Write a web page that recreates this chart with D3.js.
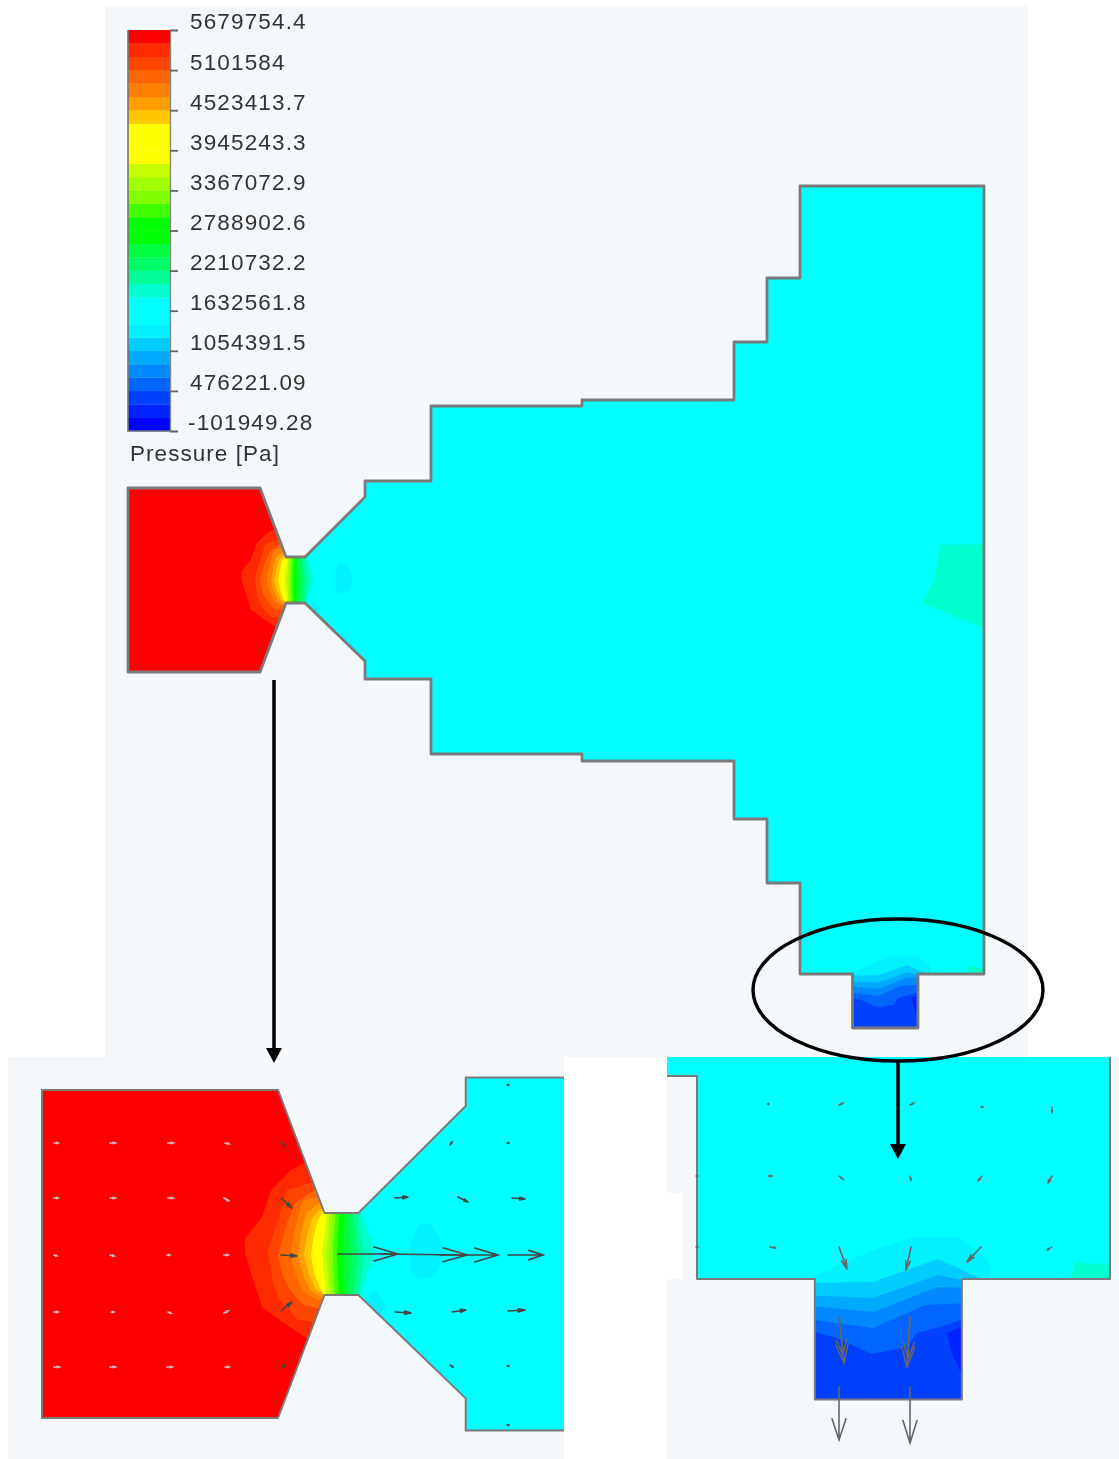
<!DOCTYPE html>
<html><head><meta charset="utf-8">
<script src="https://cdn.jsdelivr.net/npm/d3@7/dist/d3.min.js"></script>
<style>html,body{margin:0;padding:0;background:#fff}svg{display:block}</style>
</head><body><svg id="c" width="1119" height="1459"></svg>
<script>
// ---- legend data ----
const pressureMin = -101949.28, pressureMax = 5679754.4;
const tickValues = [5679754.4,5101584,4523413.7,3945243.3,3367072.9,2788902.6,2210732.2,1632561.8,1054391.5,476221.09,-101949.28];
const tickLabels = ["5679754.4","5101584","4523413.7","3945243.3","3367072.9","2788902.6","2210732.2","1632561.8","1054391.5","476221.09","-101949.28"];
const bandColors = ["#ff0000","#ff2a00","#ff4400","#ff6600","#ff8000","#ffa000","#ffc800","#ffff00","#ffff00","#ffff00",
  "#c8ff00","#a0ff00","#80ff00","#40ff00","#00ff00","#00ff00","#00ff40","#00ff66","#00ff99","#00ffcc",
  "#00ffff","#00ffff","#00f2ff","#00ccff","#00aaff","#0088ff","#0066ff","#0040ff","#0020ff","#0000ff"].reverse();
const legendTitle = "Pressure [Pa]";

// ---- geometry (model frame) ----
const domainOutline = [[128,488],[260,488],[286,557],[305,557],[365,497],[365,481],[431,481],[431,406],[582,406],[582,400],[734,400],[734,342],[767,342],[767,278],[800,278],[800,186],[984,186],[984,974],[918,974],[918,1028],[852.5,1028],[852.5,974],[800,974],[800,883],[767,883],[767,819],[734,819],[734,761],[582,761],[582,754],[431,754],[431,679],[365,679],[365,661],[305,603],[286,603],[260,672],[128,672]];

// ---- pressure contours near the nozzle (nozzle frame) ----
const nozzleLevels = [5391000,5198000,5005000,4813000,4620000,4427000,4234000,3660000,3470000,3270000,3080000,2890000,2510000,2310000,2120000,1920000,1540000];
const nozzleBoundaries = [
 [[310,1160],[291,1170],[271,1190],[262,1217],[245,1238],[245,1253],[254,1283],[262,1307],[284,1323],[312,1342]],
 [[314,1182],[287,1190],[278,1220],[268,1250],[273,1283],[280,1300],[298,1320],[315,1322]],
 [[314,1190],[295,1203],[287,1223],[278,1255],[283,1277],[290,1290],[303,1305],[316,1308]],
 [[318,1197],[303,1200],[297,1220],[290,1255],[295,1273],[303,1292],[318,1300]],
 [[320,1203],[307,1212],[302,1228],[298,1255],[303,1275],[310,1290],[321,1297]],
 [[322,1208],[312,1218],[307,1235],[304,1255],[309,1275],[316,1290],[323,1293]],
 [[325,1208],[317,1222],[313,1240],[311,1255],[314,1272],[320,1288],[326,1300]],
 [[327,1205],[325,1230],[322,1255],[325,1280],[327,1305]],
 [[330,1205],[328,1235],[326,1255],[328,1280],[330,1305]],
 [[333,1205],[331,1235],[330,1255],[331,1280],[333,1305]],
 [[336,1205],[334,1235],[333,1255],[334,1280],[336,1305]],
 [[340,1205],[338,1235],[337,1255],[338,1280],[340,1305]],
 [[345,1205],[344,1235],[344,1255],[344,1280],[345,1305]],
 [[349,1205],[350,1235],[351,1255],[350,1280],[349,1305]],
 [[353,1205],[355,1235],[358,1255],[355,1280],[353,1305]],
 [[357,1205],[361,1235],[365,1255],[361,1280],[357,1305]],
 [[361,-1500],[361,1212],[374,1247],[374,1257],[361,1293],[361,3500]]
];
const nozzleBubbleLevel = 1350000;
const nozzleBubbles = [
 [[420,1224],[432,1224],[441,1240],[443,1258],[436,1275],[420,1280],[411,1272],[411,1240]],
 [[369,1294],[376,1291],[386,1306],[378,1316],[369,1302]]
];

// ---- pressure contours near the outlet (outlet frame) ----
const outletLevels = [1350000,1160000,970000,770000,580000,390000];
const outletBoundaries = [
 [[807,1279],[873,1250],[913,1237],[960,1238],[988,1260],[992,1281]],
 [[800,1283],[873,1282],[938,1259],[962,1270],[988,1281]],
 [[800,1295],[873,1298],[938,1275],[962,1280],[970,1281]],
 [[800,1305],[873,1312],[938,1287],[970,1288]],
 [[800,1318],[873,1328],[925,1305],[970,1303]],
 [[800,1328],[837,1338],[872,1354],[907,1347],[917,1333],[947,1325],[970,1316]]
];
const outletPatchLevel = 200000;
const outletPatch = [[947,1333],[965,1325],[965,1382],[952,1353]];
const cornerPatchLevel = 1920000;
const cornerPatch = [[1070,1281],[1075,1262],[1112,1265],[1112,1281]];
const wallPatch = [[940,545],[986,544],[986,629],[922,603],[935,577]];

// ---- velocity vectors: x, y, u, v ----
const nozzleVectors = [
 [54,1143,4,0],[110,1143,5,0],[168,1143,5,0],[225,1143,4,1],[281,1142,4,4],
 [54,1198,4,0],[110,1198,5,0],[168,1198,5,0],[224,1198,5,3],[281,1198,11,10],
 [54,1255,3,1],[110,1255,4,1],[167,1255,3,0],[224,1255,4,0],[281,1255,16,1],
 [54,1312,4,0],[111,1312,3,0],[168,1312,3,1],[224,1313,4,-2],[281,1311,11,-9],
 [54,1367,5,0],[110,1367,5,0],[167,1367,5,0],[225,1367,4,0],[281,1369,4,-5],
 [338,1254,60,0],[380,1254,87,1],[440,1255,58,0],[508,1255,35,0],
 [395,1198,13,-1],[458,1197,10,5],[512,1198,13,1],
 [395,1312,16,1],[452,1312,14,-2],[508,1311,17,-1],
 [450,1145,2,-3],[507,1143,2,0],[507,1085,2,0],[450,1365,3,2],[507,1366,2,0],[507,1425,2,0]
];
const outletVectors = [
 [767,1104,2,0],[839,1105,4,-2],[910,1105,4,-2],[981,1107,2,0],[1052,1107,0,6],
 [696,1176,2,0],[768,1176,4,0],[839,1176,4,3],[910,1176,1,4],[982,1176,-4,5],[1052,1176,-4,7],
 [696,1247,2,0],[770,1247,6,1],[839,1247,8,22],[911,1247,-5,23],[981,1247,-14,15],[1052,1247,-5,3],
 [839,1317,5,46],[910,1317,-3,50],[839,1317,4,38],[910,1317,-2,42],
 [839,1387,0,53],[910,1387,0,56]
];

// ---- scales ----
const toModel = {
  model:{x:d3.scaleLinear().domain([0,1]).range([0,1]), y:d3.scaleLinear().domain([0,1]).range([0,1])},
  nozzle:{x:d3.scaleLinear().domain([42,278]).range([128,260]), y:d3.scaleLinear().domain([1090,1418]).range([488,672])},
  outlet:{x:d3.scaleLinear().domain([697,1110]).range([800,984]), y:d3.scaleLinear().domain([1076,1279]).range([883,974])}
};
const views = [
 {id:"main", x:d3.scaleLinear().domain([0,1]).range([0,1]), y:d3.scaleLinear().domain([0,1]).range([0,1]), sw:2.8, clip:[105,6,923,1051]},
 {id:"left", x:d3.scaleLinear().domain([128,260]).range([42,278]), y:d3.scaleLinear().domain([488,672]).range([1090,1418]), sw:2, clip:[8,1057,556,402]},
 {id:"right", x:d3.scaleLinear().domain([800,984]).range([697,1110]), y:d3.scaleLinear().domain([883,974]).range([1076,1279]), sw:2, clip:[667,1057,452,402]}
];
const color = d3.scaleQuantize().domain([pressureMin,pressureMax]).range(bandColors);
const yLegend = d3.scaleLinear().domain([pressureMin,pressureMax]).range([431,30]);

const svg = d3.select("#c");
const defs = svg.append("defs");
const f = defs.append("filter").attr("id","soft").attr("x","-2%").attr("y","-2%").attr("width","104%").attr("height","104%");
f.append("feGaussianBlur").attr("stdDeviation",0.55);

const root = svg.append("g").attr("filter","url(#soft)");
const BG = "#f5f8fa";
// panels
[[105,6,923,1051],[8,1057,556,402],[667,1057,452,402]].forEach(r=>
  root.append("rect").attr("x",r[0]).attr("y",r[1]).attr("width",r[2]).attr("height",r[3]).attr("fill",BG));

// views
views.forEach(v=>{
  const line = (pts,frame)=>d3.line().x(d=>v.x(toModel[frame].x(d[0]))).y(d=>v.y(toModel[frame].y(d[1])))(pts);
  defs.append("clipPath").attr("id","dom-"+v.id).append("path").attr("d",line(domainOutline,"model")+"Z");
  defs.append("clipPath").attr("id","pan-"+v.id).append("rect").attr("x",v.clip[0]).attr("y",v.clip[1]).attr("width",v.clip[2]).attr("height",v.clip[3]);
  const pan = root.append("g").attr("clip-path",`url(#pan-${v.id})`);
  const g = pan.append("g").attr("clip-path",`url(#dom-${v.id})`);
  g.append("path").attr("d",line(domainOutline,"model")+"Z").attr("fill",color(5600000));
  nozzleBoundaries.forEach((b,i)=>{
    const pts = b.concat([[3000,b[b.length-1][1]],[3000,b[0][1]]]);
    g.append("path").attr("d",line(pts,"nozzle")+"Z").attr("fill",color(nozzleLevels[i]));
  });
  nozzleBubbles.forEach(b=>g.append("path").attr("d",d3.line().curve(d3.curveLinearClosed)
     .x(d=>v.x(toModel.nozzle.x(d[0]))).y(d=>v.y(toModel.nozzle.y(d[1])))(b)).attr("fill",color(nozzleBubbleLevel)));
  g.append("path").attr("d",line(wallPatch,"model")+"Z").attr("fill",color(cornerPatchLevel));
  g.append("path").attr("d",line(cornerPatch,"outlet")+"Z").attr("fill",color(cornerPatchLevel));
  outletBoundaries.forEach((b,i)=>{
    const pts = b.concat([[b[b.length-1][0],1500],[b[0][0],1500]]);
    g.append("path").attr("d",line(pts,"outlet")+"Z").attr("fill",color(outletLevels[i]));
  });
  g.append("path").attr("d",line(outletPatch,"outlet")+"Z").attr("fill",color(outletPatchLevel));
  pan.append("path").attr("d",line(domainOutline,"model")+"Z").attr("fill","none")
     .attr("stroke","#7a7a7a").attr("stroke-width",v.sw).attr("stroke-linejoin","round");
});

// white notch in right inset
root.append("rect").attr("x",667).attr("y",1193).attr("width",15).attr("height",86).attr("fill","#fff");

// vectors
function drawVectors(rows,frame,view,stroke){
  const X=d=>view.x(toModel[frame].x(d)), Y=d=>view.y(toModel[frame].y(d));
  const g=root.append("g").attr("clip-path",`url(#pan-${view.id})`).attr("fill","none").attr("stroke",stroke).attr("stroke-linecap","round");
  rows.forEach(([x,y,u,v])=>{
    const x0=X(x),y0=Y(y),x1=X(x+u),y1=Y(y+v);
    const len=Math.hypot(x1-x0,y1-y0), a=Math.atan2(y1-y0,x1-x0);
    const hl=len>30?Math.min(len*0.4,24):len*0.4, hw=len>30?Math.min(hl*0.33,7):Math.max(len*0.1,0.6);
    const p=d3.path();
    p.moveTo(x0,y0);p.lineTo(x1,y1);
    p.moveTo(x1-hl*Math.cos(a)+hw*Math.sin(a),y1-hl*Math.sin(a)-hw*Math.cos(a));
    p.lineTo(x1,y1);
    p.lineTo(x1-hl*Math.cos(a)-hw*Math.sin(a),y1-hl*Math.sin(a)+hw*Math.cos(a));
    const tinyOnRed = frame==="nozzle" && x<270 && len<8;
    g.append("path").attr("d",p.toString())
      .attr("stroke",tinyOnRed?"#c9b6b6":stroke)
      .attr("stroke-width",tinyOnRed?1.7:(len<8?1.4:1.6));
  });
}
drawVectors(nozzleVectors,"nozzle",views[1],"#444");
drawVectors(outletVectors,"outlet",views[2],"#666");

// colour bar
const leg = root.append("g");
leg.selectAll("rect").data(bandColors).join("rect")
  .attr("x",128).attr("width",42)
  .attr("y",(d,i)=>yLegend(pressureMin+(i+1)*(pressureMax-pressureMin)/30))
  .attr("height",401/30+0.3)
  .attr("fill",d=>d);
leg.append("path").attr("d","M128,30V431H170").attr("fill","none").attr("stroke","#777").attr("stroke-width",1.6);
const axis = d3.axisRight(yLegend).tickValues(tickValues).tickSize(8).tickPadding(12)
  .tickFormat((d,i)=>tickLabels[i]);
const ax = root.append("g").attr("transform","translate(170,0)").call(axis);
ax.select(".domain").attr("stroke","#888").attr("stroke-width",1.4);
ax.selectAll(".tick line").attr("stroke","#666").attr("stroke-width",1.8);
ax.selectAll(".tick text").attr("fill","#333").attr("dy",0).attr("y",-7).attr("dominant-baseline","middle")
  .attr("font-family","'Liberation Sans',Arial,sans-serif").attr("font-size",22.5).attr("letter-spacing",1.15);
ax.selectAll(".tick text").filter((d,i)=>i===10).attr("x",18);
root.append("text").attr("x",130).attr("y",461).text(legendTitle).attr("fill","#333")
  .attr("font-family","'Liberation Sans',Arial,sans-serif").attr("font-size",22.5).attr("letter-spacing",1.05);

// annotations
const ann = svg.append("g");
ann.append("ellipse").attr("cx",898).attr("cy",990).attr("rx",145).attr("ry",71)
  .attr("fill","none").attr("stroke","#000").attr("stroke-width",3.4);
function bigArrow(x,y0,y1,hl,hw){
  ann.append("line").attr("x1",x).attr("x2",x).attr("y1",y0).attr("y2",y1-hl).attr("stroke","#000").attr("stroke-width",3.5);
  ann.append("path").attr("d",`M${x-hw},${y1-hl}L${x+hw},${y1-hl}L${x},${y1}Z`).attr("fill","#000");
}
bigArrow(274,680,1063,15,8);
bigArrow(898,1062,1159,15,8);
</script></body></html>
